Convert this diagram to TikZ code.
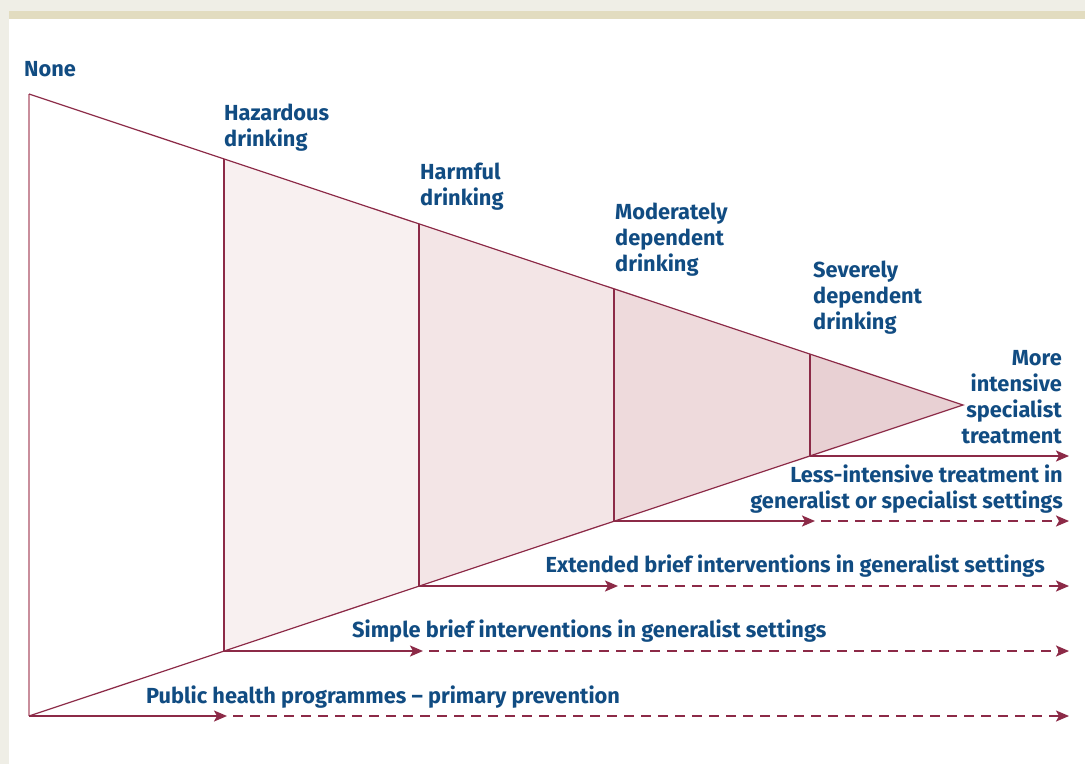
\documentclass[tikz,border=0pt]{standalone}
\usepackage{fontspec}
\setmainfont{Fira Sans}
\usetikzlibrary{arrows.meta}
\definecolor{bgout}{HTML}{EFEEE6}
\definecolor{band}{HTML}{E2DCC0}
\definecolor{wine}{HTML}{8C2A47}
\definecolor{lpink}{HTML}{C98E9C}
\definecolor{navy}{HTML}{114C82}
\definecolor{fa}{HTML}{F8F0F0}
\definecolor{fb}{HTML}{F3E5E6}
\definecolor{fc}{HTML}{EEDADC}
\definecolor{fd}{HTML}{E8D0D3}
\begin{document}
\begin{tikzpicture}[x=1pt,y=-1pt,
  lbl/.style={font=\fontsize{21.8}{26}\selectfont\bfseries, text=navy, inner sep=0pt},
  edge/.style={wine, line width=1.2pt},
  tipstyle/.style={-{Stealth[length=13pt,width=11pt,inset=3pt]}},
  solidarr/.style={wine, line width=2pt, tipstyle},
  dasharr/.style={wine, line width=2pt, tipstyle, dash pattern=on 10pt off 7pt, dash phase=11pt}]
% background
\fill[bgout] (0,0) rectangle (1085,764);
\fill[band] (9,11) rectangle (1085,19);
\fill[white] (9,19) rectangle (1085,764);
\useasboundingbox (0,0) rectangle (1085,764);
% geometry
\coordinate (A) at (29,94);
\coordinate (B) at (29,716);
\coordinate (T) at (963,405);
\coordinate (v1t) at (224,159); \coordinate (v1b) at (224,651);
\coordinate (v2t) at (419,224); \coordinate (v2b) at (419,586);
\coordinate (v3t) at (614,289); \coordinate (v3b) at (614,521);
\coordinate (v4t) at (810,354); \coordinate (v4b) at (810,456);
\coordinate (e1) at (227,716); \coordinate (f1) at (1069,716);
\coordinate (e2) at (423,651); \coordinate (f2) at (1069,651);
\coordinate (e3) at (618,586); \coordinate (f3) at (1069,586);
\coordinate (e4) at (815,521); \coordinate (f4) at (1069,521);
\coordinate (f5) at (1069,456);
% fills
\fill[fa] (v1t) -- (v2t) -- (v2b) -- (v1b) -- cycle;
\fill[fb] (v2t) -- (v3t) -- (v3b) -- (v2b) -- cycle;
\fill[fc] (v3t) -- (v4t) -- (v4b) -- (v3b) -- cycle;
\fill[fd] (v4t) -- (T) -- (v4b) -- cycle;
% edges
\draw[lpink, line width=2pt] (A) -- (B);
\draw[edge] (A) -- (T) -- (B);
\draw[edge] (v1t) -- (v1b);
\draw[edge] (v2t) -- (v2b);
\draw[edge] (v3t) -- (v3b);
\draw[edge] (v4t) -- (v4b);
% arrows
\draw[solidarr] (B) -- (e1);
\draw[dasharr] (e1) -- (f1);
\draw[solidarr] (v1b) -- (e2);
\draw[dasharr] (e2) -- (f2);
\draw[solidarr] (v2b) -- (e3);
\draw[dasharr] (e3) -- (f3);
\draw[solidarr] (v3b) -- (e4);
\draw[dasharr] (e4) -- (f4);
\draw[solidarr] (v4b) -- (f5);
% labels (base anchor = last line baseline)
\node[lbl, anchor=base west] (none) at (24,76) {None};
\node[lbl, anchor=base west, align=left] (haz) at (224,146) {Hazardous\\drinking};
\node[lbl, anchor=base west, align=left] (harm) at (420,205) {Harmful\\drinking};
\node[lbl, anchor=base west, align=left] (mod) at (615,271) {Moderately\\dependent\\drinking};
\node[lbl, anchor=base west, align=left] (sev) at (813,329) {Severely\\dependent\\drinking};
\node[lbl, anchor=base east, align=right] (more) at (1062,443) {More\\intensive\\specialist\\treatment};
\node[lbl, anchor=base east, align=right] (less) at (1063,508) {Less-intensive treatment in\\generalist or specialist settings};
\node[lbl, anchor=base east] (ext) at (1045,572) {Extended brief interventions in generalist settings};
\node[lbl, anchor=base west] (simp) at (352,637) {Simple brief interventions in generalist settings};
\node[lbl, anchor=base west] (pub) at (146,703) {Public health programmes – primary prevention};
\end{tikzpicture}
\end{document}
